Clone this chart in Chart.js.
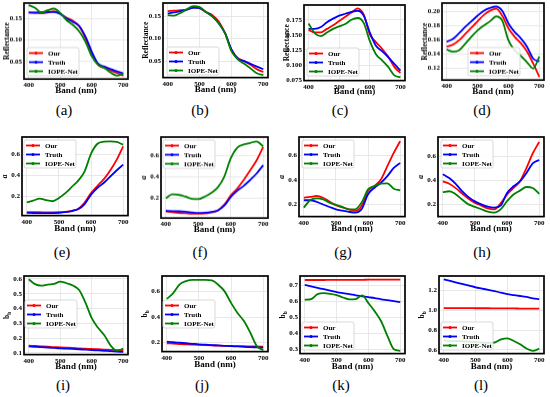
<!DOCTYPE html>
<html><head><meta charset="utf-8">
<script src="https://cdn.jsdelivr.net/npm/chart.js@4.4.0/dist/chart.umd.min.js"></script>
<style>
html,body{margin:0;padding:0;background:#fff;width:550px;height:397px;overflow:hidden;position:relative;}
canvas{position:absolute;}
.lab{position:absolute;font-family:'Liberation Serif',serif;font-size:15px;transform:translate(-50%,-50%);color:#000;white-space:nowrap;}
</style></head><body>
<script>
// ---- data ----
const bands=[400,420,440,460,480,500,520,540,560,580,600,620,640,660,680,700];
const seriesNames=['Our','Truth','IOPE-Net'];
const xTicks=[400,500,600,700];

const ourA=[.164,.163,.162,.164,.167,.161,.152,.145,.132,.104,.069,.042,.035,.029,.023,.017];
const truthA=[.164,.164,.165,.165,.165,.161,.150,.142,.133,.108,.073,.045,.038,.032,.027,.022];
const iopeA=[.181,.175,.164,.169,.173,.163,.146,.135,.120,.096,.062,.042,.035,.024,.017,.021];

const ourB=[.161,.162,.163,.165,.170,.167,.159,.152,.138,.112,.076,.057,.050,.042,.032,.026];
const truthB=[.156,.158,.161,.164,.168,.168,.159,.150,.134,.112,.076,.055,.050,.044,.038,.032];
const iopeB=[.152,.151,.157,.165,.172,.170,.159,.149,.134,.112,.072,.054,.044,.034,.023,.019];

const ourC=[.158,.154,.154,.160,.166,.173,.180,.187,.194,.184,.151,.138,.127,.114,.097,.087];
const truthC=[.160,.160,.163,.171,.177,.182,.185,.188,.190,.182,.154,.132,.123,.113,.102,.091];
const iopeC=[.169,.153,.148,.154,.160,.164,.168,.175,.178,.170,.140,.118,.108,.097,.083,.080];

const ourD=[.150,.153,.159,.168,.177,.186,.195,.201,.204,.194,.176,.164,.155,.143,.126,.107];
const truthD=[.157,.161,.169,.178,.186,.194,.201,.205,.207,.201,.183,.171,.162,.150,.133,.129];
const iopeD=[.146,.143,.145,.154,.164,.173,.180,.186,.193,.187,.159,.145,.137,.128,.119,.136];

const ourE=[.046,.046,.046,.045,.045,.046,.050,.060,.080,.140,.230,.300,.365,.450,.552,.680];
const truthE=[.040,.039,.038,.037,.038,.040,.048,.058,.075,.125,.215,.280,.330,.390,.450,.504];
const iopeE=[.142,.158,.178,.162,.152,.184,.230,.290,.350,.440,.610,.705,.725,.728,.722,.696];

const ourF=[.077,.070,.064,.060,.056,.055,.058,.068,.085,.140,.225,.290,.370,.460,.554,.677];
const truthF=[.083,.080,.078,.074,.068,.062,.065,.072,.085,.130,.210,.270,.315,.370,.431,.508];
const iopeF=[.200,.237,.231,.215,.195,.192,.215,.250,.300,.400,.570,.670,.700,.715,.729,.683];

const ourG=[.254,.260,.268,.254,.222,.192,.175,.159,.146,.186,.309,.350,.404,.513,.622,.717];
const truthG=[.233,.233,.219,.198,.178,.159,.148,.138,.132,.159,.282,.336,.377,.431,.499,.540];
const iopeG=[.173,.235,.249,.241,.214,.195,.178,.159,.159,.214,.322,.350,.369,.372,.328,.314];

const ourH=[.390,.371,.335,.290,.246,.213,.190,.167,.159,.208,.282,.336,.390,.499,.622,.717];
const truthH=[.450,.418,.370,.310,.260,.225,.200,.181,.173,.190,.295,.350,.390,.458,.540,.567];
const iopeH=[.301,.309,.285,.240,.200,.180,.160,.140,.132,.159,.227,.282,.314,.344,.336,.287];

const ourI=[.149,.147,.145,.143,.140,.138,.136,.134,.131,.129,.127,.125,.123,.121,.119,.118];
const truthI=[.145,.142,.139,.137,.134,.131,.129,.127,.125,.122,.120,.117,.115,.112,.110,.107];
const iopeI=[.598,.565,.555,.562,.566,.582,.571,.556,.525,.440,.335,.270,.220,.150,.116,.129];

const ourJ=[.195,.192,.189,.186,.184,.182,.180,.178,.176,.175,.174,.173,.172,.171,.170,.169];
const truthJ=[.208,.203,.199,.195,.191,.187,.184,.181,.178,.175,.172,.170,.167,.165,.163,.161];
const iopeJ=[.541,.587,.655,.680,.690,.690,.690,.685,.652,.600,.510,.432,.368,.277,.174,.141];

const ourK=[.735,.735,.735,.735,.736,.736,.736,.736,.736,.736,.737,.737,.737,.737,.737,.737];
const truthK=[.704,.695,.686,.677,.668,.659,.652,.646,.639,.633,.627,.621,.614,.608,.602,.596];
const iopeK=[.611,.615,.646,.652,.648,.640,.625,.613,.615,.638,.590,.538,.476,.383,.300,.290];

const ourL=[1.023,1.023,1.022,1.022,1.022,1.021,1.021,1.021,1.020,1.020,1.019,1.019,1.018,1.018,1.017,1.017];
const truthL=[1.313,1.297,1.281,1.265,1.249,1.233,1.220,1.207,1.195,1.178,1.163,1.154,1.145,1.135,1.122,1.113];
const iopeL=[.697,.690,.690,.688,.685,.680,.673,.672,.675,.707,.717,.690,.657,.615,.590,.613];

const ticksA=[0.05,0.10,0.15], ticksB=[0.05,0.10,0.15];
const ticksC=[0.075,0.100,0.125,0.150,0.175];
const ticksD=[0.12,0.14,0.16,0.18,0.20];
const ticksE=[0.2,0.4,0.6], ticksF=[0.2,0.4,0.6], ticksG=[0.2,0.4,0.6], ticksH=[0.2,0.4,0.6];
const ticksI=[0.1,0.2,0.3,0.4,0.5,0.6];
const ticksJ=[0.2,0.4,0.6];
const ticksK=[0.3,0.4,0.5,0.6,0.7];
const ticksL=[0.6,0.8,1.0,1.2];

// ---- layout / style ----
const COLORS=['#ff0000','#0000ff','#008000'];
const FONT='"Liberation Serif", "Times New Roman", serif';
const panels=[
 {n:'a',s:[ourA,truthA,iopeA],t:ticksA,d:2,yr:[0.009,0.186],yt:'Reflectance',p:[24,3,128,79],xh:16.8,lg:[27,47]},
 {n:'b',s:[ourB,truthB,iopeB],t:ticksB,d:2,yr:[0.0135,0.179],yt:'Reflectance',p:[163,3,268,78],xh:17.4,lg:[167,47]},
 {n:'c',s:[ourC,truthC,iopeC],t:ticksC,d:3,yr:[0.0743,0.1995],yt:'Reflectance',p:[304,5,405,81],xh:16.4,lg:[307,48]},
 {n:'d',s:[ourD,truthD,iopeD],t:ticksD,d:2,yr:[0.1026,0.212],yt:'Reflectance',p:[442,3,544,80],xh:16.8,lg:[468,47]},
 {n:'e',s:[ourE,truthE,iopeE],t:ticksE,d:1,yr:[0.014,0.77],yt:'a',it:true,p:[22,137,128,216],xh:18.4,lg:[24,140]},
 {n:'f',s:[ourF,truthF,iopeF],t:ticksF,d:1,yr:[0.015,0.77],yt:'a',it:true,p:[161,137,268,218],xh:16.8,lg:[163,140]},
 {n:'g',s:[ourG,truthG,iopeG],t:ticksG,d:1,yr:[0.099,0.752],yt:'a',it:true,p:[299,137,405,217],xh:17.4,lg:[302,140]},
 {n:'h',s:[ourH,truthH,iopeH],t:ticksH,d:1,yr:[0.099,0.758],yt:'a',it:true,p:[438,137,544,217],xh:17.4,lg:[441,140]},
 {n:'i',s:[ourI,truthI,iopeI],t:ticksI,d:1,yr:[0.089,0.62],yt:'b',sub:'b',p:[24,276,128,355],xh:17.4,lg:[25,300]},
 {n:'j',s:[ourJ,truthJ,iopeJ],t:ticksJ,d:1,yr:[0.13,0.72],yt:'b',sub:'b',p:[162,276,268,352],xh:18.4,lg:[163,300]},
 {n:'k',s:[ourK,truthK,iopeK],t:ticksK,d:1,yr:[0.273,0.76],yt:'b',sub:'b',p:[300,276,405,354],xh:18.4,lg:[302,322]},
 {n:'l',s:[ourL,truthL,iopeL],t:ticksL,d:1,yr:[0.563,1.347],yt:'b',sub:'b',p:[439,276,544,354],xh:18.4,lg:[441,322]}
];
const labelPos={a:[64,110],b:[200,110],c:[340,110],d:[482,110],e:[62,252],f:[200,252],g:[343,252],h:[482,252],i:[63,385],j:[202,385],k:[341,385],l:[481,385]};
const YW=21, PADT=3, PADR=4;

const framePlugin={id:'frame',afterDraw(chart){
  const a=chart.chartArea,ctx=chart.ctx;ctx.save();ctx.strokeStyle='#000';ctx.lineWidth=1.7;
  ctx.strokeRect(a.left,a.top,a.right-a.left,a.bottom-a.top);ctx.restore();}};
const yTitlePlugin={id:'ytitle',afterDraw(chart,args,o){
  if(!o.text)return;const ctx=chart.ctx,a=chart.chartArea;ctx.save();
  ctx.translate(a.left-o.off,(a.top+a.bottom)/2);ctx.rotate(-Math.PI/2);ctx.fillStyle='#000';
  const f=(o.italic?'italic ':'')+'bold '+o.size+'px '+FONT, sf='bold '+(o.size*0.72)+'px '+FONT;
  ctx.font=f;const w1=ctx.measureText(o.text).width;let w2=0;
  if(o.sub){ctx.font=sf;w2=ctx.measureText(o.sub).width;}
  const x=-(w1+w2)/2;ctx.textBaseline='middle';ctx.textAlign='left';ctx.font=f;ctx.fillText(o.text,x,0);
  if(o.sub){ctx.font=sf;ctx.fillText(o.sub,x+w1,o.size*0.3);}
  ctx.restore();}};
const legendPlugin={id:'boxLegend',afterDraw(chart,args,o){
  const ctx=chart.ctx,x=o.x,y=o.y,w=52,h=28;ctx.save();
  ctx.beginPath();if(ctx.roundRect)ctx.roundRect(x,y,w,h,2);else ctx.rect(x,y,w,h);
  ctx.fillStyle='rgba(255,255,255,0.85)';ctx.fill();ctx.strokeStyle='#cfcfcf';ctx.lineWidth=0.8;ctx.stroke();
  ctx.font='bold 7px '+FONT;ctx.textBaseline='middle';ctx.textAlign='left';
  chart.data.datasets.forEach((ds,i)=>{const yy=y+5.5+i*9;
    ctx.strokeStyle=ds.borderColor;ctx.lineWidth=1.8;ctx.beginPath();ctx.moveTo(x+2,yy);ctx.lineTo(x+16,yy);ctx.stroke();
    ctx.fillStyle=ds.borderColor;ctx.beginPath();ctx.arc(x+9,yy,1.5,0,Math.PI*2);ctx.fill();
    ctx.fillStyle='#000';ctx.fillText(ds.label,x+21,yy+0.5);});
  ctx.restore();}};

panels.forEach(P=>{
  const [l,t,r,b]=P.p;const cl=l-YW, ct=t-PADT, cw=r+PADR-cl, ch=b-t+PADT+P.xh;
  const cv=document.createElement('canvas');cv.style.left=cl+'px';cv.style.top=ct+'px';
  cv.style.width=cw+'px';cv.style.height=ch+'px';cv.width=cw;cv.height=ch;document.body.appendChild(cv);
  const lab=document.createElement('div');lab.className='lab';lab.textContent='('+P.n+')';
  lab.style.left=labelPos[P.n][0]+'px';lab.style.top=labelPos[P.n][1]+'px';document.body.appendChild(lab);
  const datasets=P.s.map((arr,i)=>({label:seriesNames[i],data:bands.map((bb,k)=>({x:bb,y:arr[k]})),
    borderColor:COLORS[i],backgroundColor:COLORS[i],borderWidth:1.8,pointRadius:0,
    cubicInterpolationMode:'monotone',tension:0.4,order:3-i,fill:false}));
  const zeroPad=s=>{s.paddingTop=0;s.paddingBottom=0;s.paddingLeft=0;s.paddingRight=0;};
  new Chart(cv,{type:'line',data:{datasets},plugins:[framePlugin,yTitlePlugin,legendPlugin],
   options:{responsive:false,animation:false,devicePixelRatio:1,
    layout:{padding:{left:0,top:PADT,right:PADR,bottom:0}},
    plugins:{legend:{display:false},tooltip:{enabled:false},
      ytitle:{text:P.yt,sub:P.sub,italic:P.it,size:7.5,off:17},
      boxLegend:{x:P.lg[0]-cl,y:P.lg[1]-ct}},
    scales:{
     x:{type:'linear',min:385,max:715,
       afterBuildTicks:s=>{s.ticks=xTicks.map(v=>({value:v}));},
       afterFit:s=>{s.height=P.xh;zeroPad(s);},
       ticks:{color:'#000',font:{family:FONT,size:7,weight:'bold'},padding:2,maxRotation:0,autoSkip:false,callback:v=>String(v)},
       grid:{color:'#e2e2e2',lineWidth:0.8,drawTicks:false},border:{display:false},
       title:{display:true,text:'Band (nm)',color:'#000',font:{family:FONT,size:9,weight:'bold'},padding:{top:0,bottom:0}}},
     y:{type:'linear',min:P.yr[0],max:P.yr[1],
       afterBuildTicks:s=>{s.ticks=P.t.map(v=>({value:v}));},
       afterFit:s=>{s.width=YW;zeroPad(s);},
       ticks:{color:'#000',font:{family:FONT,size:7,weight:'bold'},padding:2,autoSkip:false,callback:v=>Number(v).toFixed(P.d)},
       grid:{color:'#e2e2e2',lineWidth:0.8,drawTicks:false},border:{display:false}}
    }}});
});
</script>
</body></html>
